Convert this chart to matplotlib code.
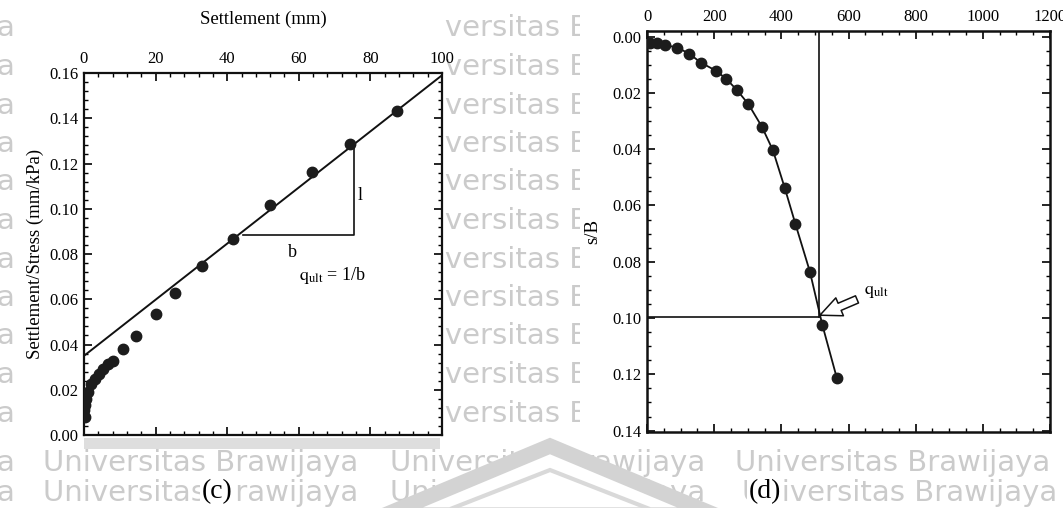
import numpy as np
import matplotlib
matplotlib.use("Agg")
import matplotlib.pyplot as plt
from matplotlib.ticker import MultipleLocator, AutoMinorLocator
from matplotlib.patches import Rectangle, Polygon

plt.rcParams['font.family'] = ['Liberation Serif', 'DejaVu Serif']
plt.rcParams['mathtext.fontset'] = 'stix'

# (c) settlement vs settlement/stress
settle_mm = [0.3, 0.1, 0.2, 0.5, 1.0, 1.9, 3.2, 4.3, 5.3, 6.7, 8.2, 10.8,
             14.5, 20.0, 25.3, 33.0, 41.5, 52.0, 63.6, 74.4, 87.5]
settle_stress = [0.008, 0.011, 0.0132, 0.0161, 0.019, 0.0227, 0.0249, 0.0271,
                 0.0293, 0.0315, 0.0329, 0.0381, 0.0436, 0.0534, 0.0627,
                 0.0747, 0.0867, 0.1017, 0.1164, 0.1288, 0.143]
fit_x = [0, 100]
fit_y = [0.035, 0.159]
tri_x = [44.3, 75.3, 75.3]
tri_y = [0.0886, 0.0886, 0.1284]

# (d) load vs s/B
load = [10, 30, 55, 90, 125, 160, 205, 235, 268, 302, 342, 375, 410, 442,
        485, 522, 565]
s_over_b = [0.0021, 0.0024, 0.003, 0.0039, 0.006, 0.0092, 0.0121, 0.0149,
            0.019, 0.024, 0.032, 0.0404, 0.0537, 0.0666, 0.0835, 0.1024,
            0.1212]
q_ult = 512
sb_ult = 0.0995

W, H = 1063, 508
fig = plt.figure(figsize=(W / 100, H / 100), dpi=100)


def fx(x):
    return x / W


def fy(y):
    return 1 - y / H


# watermark behind the scans
wm = '#cbcbcb'
wm_kw = dict(color=wm, fontsize=21, family='DejaVu Sans', va='center', zorder=-5)
for k in range(1, 12):
    yy = -10 + 38.5 * k
    fig.text(fx(397), fy(yy), 'Universitas B', ha='left', **wm_kw)
    fig.text(fx(14), fy(yy), 'a', ha='right', **wm_kw)
for yy, starts in [(463, (43, 390, 735)), (493, (43, 390, 742))]:
    for xx in starts:
        fig.text(fx(xx), fy(yy), 'Universitas Brawijaya', ha='left', **wm_kw)
    fig.text(fx(14), fy(yy), 'a', ha='right', **wm_kw)

# scanned image areas
fig.patches.append(Rectangle((fx(15), fy(447)), fx(445 - 15), 447 / H,
                             transform=fig.transFigure, fc='white', ec='none', zorder=-3))
fig.patches.append(Rectangle((fx(84), fy(449)), fx(440 - 84), 11 / H,
                             transform=fig.transFigure, fc='#dedede', ec='none', zorder=-2))
fig.patches.append(Rectangle((fx(580), fy(445)), fx(W - 580), 445 / H,
                             transform=fig.transFigure, fc='white', ec='none', zorder=-3))
# logo chevron
chev = [(fx(385), fy(515)), (fx(550), fy(446)), (fx(715), fy(515))]
fig.patches.append(Polygon(chev, closed=True, transform=fig.transFigure,
                           fc='white', ec='#d3d3d3', lw=11, zorder=-2))
inner = [(fx(435), fy(515)), (fx(550), fy(470)), (fx(665), fy(515))]
fig.patches.append(Polygon(inner, closed=False, transform=fig.transFigure,
                           fill=False, ec='#d9d9d9', lw=3, zorder=-2))

tick_kw = dict(direction='in', top=True, right=True, labelsize=12,
               labeltop=True, labelbottom=False, pad=4)

# ---- (c)
ax1 = fig.add_axes([fx(84), fy(435), fx(442 - 84), (435 - 73) / H])
ax1.plot(fit_x, fit_y, color='#111111', lw=1.4, zorder=2)
ax1.plot(tri_x, tri_y, color='#111111', lw=1.2, zorder=2)
ax1.plot(settle_mm, settle_stress, 'o', ms=7.5, color='#1c1c1c', zorder=3)
ax1.set_xlim(0, 100)
ax1.set_ylim(0, 0.16)
ax1.xaxis.set_major_locator(MultipleLocator(20))
ax1.xaxis.set_minor_locator(AutoMinorLocator(5))
ax1.yaxis.set_major_locator(MultipleLocator(0.02))
ax1.yaxis.set_minor_locator(AutoMinorLocator(5))
ax1.yaxis.set_major_formatter(plt.FormatStrFormatter('%.2f'))
ax1.tick_params(which='both', **tick_kw)
ax1.tick_params(which='major', length=6, width=1.2)
ax1.tick_params(which='minor', length=3, width=1)
ax1.xaxis.set_label_position('top')
ax1.set_xlabel('Settlement (mm)', fontsize=13.5, labelpad=20)
ax1.set_ylabel('Settlement/Stress (mm/kPa)', fontsize=13.5, labelpad=4)
ax1.text(77.2, 0.106, 'l', fontsize=13, ha='center', va='center')
ax1.text(58.3, 0.0805, 'b', fontsize=13, ha='center', va='center')
ax1.text(60, 0.0705, r'$\mathrm{q_{ult}}$ = 1/b', fontsize=13, ha='left', va='center')
for s in ax1.spines.values():
    s.set_linewidth(1.6)
    s.set_color('#111111')

# ---- (d)
ax2 = fig.add_axes([fx(647), fy(432), fx(1050 - 647), (432 - 31) / H])
ax2.plot(load, s_over_b, '-', color='#111111', lw=1.3, zorder=2)
ax2.plot(load, s_over_b, 'o', ms=7.5, color='#1c1c1c', zorder=3)
ax2.plot([q_ult, q_ult], [-0.01, sb_ult], color='#111111', lw=1.2)
ax2.plot([0, q_ult], [sb_ult, sb_ult], color='#111111', lw=1.2)
ax2.annotate(r'$\mathrm{q_{ult}}$', xy=(q_ult + 3, sb_ult - 0.0005),
             xytext=(645, 0.0905), fontsize=13, va='center', ha='left',
             arrowprops=dict(arrowstyle='simple,head_length=1.1,head_width=1.0,tail_width=0.4',
                             mutation_scale=14, fc='white', ec='#111111', lw=1.1,
                             shrinkA=3, shrinkB=0))
ax2.set_xlim(0, 1200)
ax2.set_ylim(0.1405, -0.002)
ax2.xaxis.set_major_locator(MultipleLocator(200))
ax2.xaxis.set_minor_locator(AutoMinorLocator(4))
ax2.yaxis.set_major_locator(MultipleLocator(0.02))
ax2.yaxis.set_minor_locator(AutoMinorLocator(4))
ax2.yaxis.set_major_formatter(plt.FormatStrFormatter('%.2f'))
ax2.tick_params(which='both', **tick_kw)
ax2.tick_params(which='major', length=6, width=1.2)
ax2.tick_params(which='minor', length=3, width=1)
ax2.set_ylabel('s/B', fontsize=13.5, labelpad=8)
for s in ax2.spines.values():
    s.set_linewidth(1.8)
    s.set_color('#111111')

fig.text(fx(217), fy(492), '(c)', fontsize=20, ha='center', va='center',
         bbox=dict(fc='white', ec='none', pad=1))
fig.text(fx(765), fy(492), '(d)', fontsize=20, ha='center', va='center',
         bbox=dict(fc='white', ec='none', pad=1))

fig.savefig('out.png', dpi=100)
